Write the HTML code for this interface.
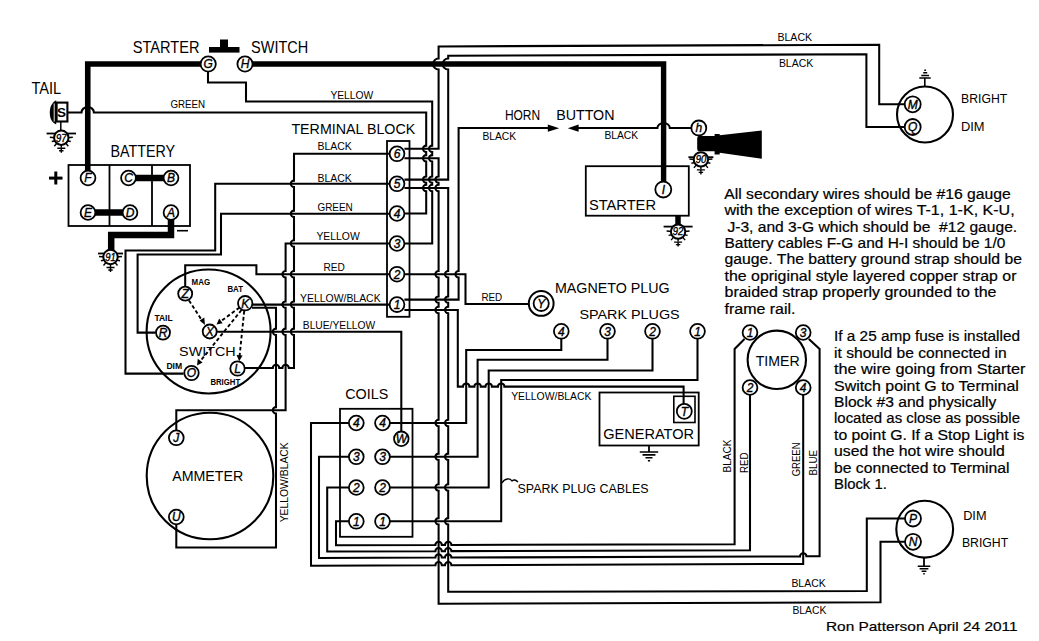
<!DOCTYPE html>
<html><head><meta charset="utf-8"><title>Wiring Diagram</title>
<style>
html,body{margin:0;padding:0;background:#fff;}
body{width:1039px;height:641px;overflow:hidden;}
svg{display:block;}
text{font-family:"Liberation Sans",sans-serif;fill:#000;stroke:none;}
text.t{font-style:italic;text-anchor:middle;stroke:#000;stroke-width:0.35px;}
text.p{stroke:#000;stroke-width:0.2px;white-space:pre;}
</style></head><body>
<svg width="1039" height="641" viewBox="0 0 1039 641">
<rect width="1039" height="641" fill="#fff"/>
<g fill="none" stroke="#000" stroke-linecap="butt" stroke-linejoin="miter">
<path d="M87.75,171 V64 H201" stroke-width="5.6"/>
<path d="M252,64 H663.6 V181.5" stroke-width="5.4"/>
<path d="M136,178 H164" stroke-width="6.5"/>
<path d="M95,212.5 H123" stroke-width="6.5"/>
<path d="M171,219 V235 H111.2 V250" stroke-width="6.5"/>
<path d="M678,215.6 V224.5" stroke-width="5.5"/>
<rect x="209" y="47" width="30.5" height="5.6" fill="#000" stroke="none"/>
<rect x="220" y="39.5" width="8" height="8" fill="#000" stroke="none"/>
<rect x="68.5" y="165" width="121.5" height="61" stroke-width="1.8"/>
<path d="M109.5,165 V226 M152,165 V226" stroke-width="1.8"/>
<path d="M177,230.7 H188" stroke-width="1.6"/>
<rect x="387" y="141" width="22.5" height="175.8" stroke-width="1.8"/>
<rect x="585.8" y="166.2" width="103" height="49.5" stroke-width="1.8"/>
<rect x="599.5" y="392.5" width="99.2" height="53" stroke-width="1.8"/>
<rect x="673.8" y="396.3" width="21.2" height="26.2" stroke-width="1.6"/>
<rect x="340" y="408.8" width="72.5" height="128" stroke-width="1.8"/>
<circle cx="208.6" cy="331.5" r="62" stroke-width="2.1" fill="none"/>
<circle cx="210" cy="476" r="63.3" stroke-width="2.1" fill="none"/>
<circle cx="925" cy="114.5" r="28" stroke-width="2.1" fill="none"/>
<circle cx="924.7" cy="529.2" r="28.4" stroke-width="2.1" fill="none"/>
<circle cx="776.8" cy="359.8" r="29.2" stroke-width="2.1" fill="none"/>
<path d="M208,72 V82.5 H246 V101.5 H432.2 V145.6 A3.2,3.2 0 0,0 432.2,152 V155.1 A3.2,3.2 0 0,0 432.2,161.5 V176.4 A3.2,3.2 0 0,0 432.2,182.8 V184.8 A3.2,3.2 0 0,0 432.2,191.2 V243.5 H404.4" stroke-width="2.05"/>
<path d="M68,112.5 H81.5 A6.2,5.5 0 0,1 93.9,112.5 H426.2 V145.6 A3.2,3.2 0 0,0 426.2,152 V155.1 A3.2,3.2 0 0,0 426.2,161.5 V176.4 A3.2,3.2 0 0,0 426.2,182.8 V184.8 A3.2,3.2 0 0,0 426.2,191.2 V213.5 H404.4" stroke-width="2.05"/>
<path d="M404.4,148.8 H438.6 V69.5 A5.5,5.5 0 0,1 438.6,58.5 V46.4 L879.2,44.7 V104.3 H904.8" stroke-width="2.05"/>
<path d="M404.4,179.6 H448.2 V69.5 A5.5,5.5 0 0,1 448.2,58.5 V55.7 L866.4,54.3 V127 H904.8" stroke-width="2.05"/>
<path d="M404.4,158.3 H438.6 V176.4 A3.2,3.2 0 0,0 438.6,182.8 V184.8 A3.2,3.2 0 0,0 438.6,191.2 V271 A3.2,3.2 0 0,0 438.6,277.4 V296.4 A3.2,3.2 0 0,0 438.6,302.8 V306.8 A3.2,3.2 0 0,0 438.6,313.2 V419.8 A3.2,3.2 0 0,0 438.6,426.2 V453.6 A3.2,3.2 0 0,0 438.6,460 V484.3 A3.2,3.2 0 0,0 438.6,490.7 V518.1 A3.2,3.2 0 0,0 438.6,524.5 V603.8 L880.5,602.3 V541.8 H905" stroke-width="2.05"/>
<path d="M404.4,188 H448.2 V271 A3.2,3.2 0 0,0 448.2,277.4 V296.4 A3.2,3.2 0 0,0 448.2,302.8 V306.8 A3.2,3.2 0 0,0 448.2,313.2 V419.8 A3.2,3.2 0 0,0 448.2,426.2 V453.6 A3.2,3.2 0 0,0 448.2,460 V484.3 A3.2,3.2 0 0,0 448.2,490.7 V518.1 A3.2,3.2 0 0,0 448.2,524.5 V591.8 L866.8,591 V518.5 H905" stroke-width="2.05"/>
<path d="M404.4,299.6 H458.6 V277.4 A3.2,3.2 0 0,1 458.6,271 V128 H552" stroke-width="2.05"/>
<path d="M559.2,128.2 L547.8,124.6 L547.8,131.8 Z" fill="#000" stroke="none"/>
<path d="M567.8,128.2 L578.6,124.6 L578.6,131.8 Z" fill="#000" stroke="none"/>
<path d="M576,128 H657.4 A6.2,5 0 0,1 669.8,128 H691.4" stroke-width="2.05"/>
<path d="M404.4,310 H457.8 V386.6 H463 A3.2,3.2 0 0,1 469.4,386.6 H474.4 A3.2,3.2 0 0,1 480.8,386.6 H485.5 A3.2,3.2 0 0,1 491.9,386.6 H498 A3.2,3.2 0 0,1 504.4,386.6 H683.6 V404" stroke-width="2.05"/>
<path d="M404.4,274.2 H465.5 V304 H528" stroke-width="2.05"/>
<path d="M389.6,153.8 H294 V180.6 A3.2,3.2 0 0,0 294,187 V210.6 A3.2,3.2 0 0,0 294,217 V240.3 A3.2,3.2 0 0,0 294,246.7 V271 A3.2,3.2 0 0,0 294,277.4 V301.4 A3.2,3.2 0 0,0 294,307.8 V328.6 A3.2,3.2 0 0,0 294,335 V368 H288.8 A3.2,3.2 0 0,0 282.4,368 H279.2 A3.2,3.2 0 0,0 272.8,368 H244.8" stroke-width="2.05"/>
<path d="M389.6,183.8 H215.2 V250.5 H125.5 V373.6 H183.6" stroke-width="2.05"/>
<path d="M389.6,213.8 H221 V254.5 H137.6 V332.6 H155.6" stroke-width="2.05"/>
<path d="M389.6,243.5 H285.6 V271 A3.2,3.2 0 0,0 285.6,277.4 V301.4 A3.2,3.2 0 0,0 285.6,307.8 V328.6 A3.2,3.2 0 0,0 285.6,335 V410.3 H176.3 V430.5" stroke-width="2.05"/>
<path d="M389.6,274.2 H256.4 V265.2 H185.2 V286.4" stroke-width="2.05"/>
<path d="M252.4,304.6 H389.6" stroke-width="2.05"/>
<path d="M252,307.8 H276 V328.6 A3.2,3.2 0 0,0 276,335 V407.1 A3.2,3.2 0 0,0 276,413.5 V547.4 H176.3 V524.4" stroke-width="2.05"/>
<path d="M216.9,331.8 H401.3 V431.4" stroke-width="2.05"/>
<path d="M189,300.5 L202,320.5" stroke-width="1.9" stroke-dasharray="3.6,2.4"/>
<path d="M205,325 L199.6,320.6 L204.3,317.6 Z" fill="#000" stroke="none"/>
<path d="M239.5,307.5 L220.5,321.5" stroke-width="1.9" stroke-dasharray="3.6,2.4"/>
<path d="M216.5,324.5 L219.2,318.6 L222.6,323.2 Z" fill="#000" stroke="none"/>
<path d="M241.5,310 L200,361.5" stroke-width="1.9" stroke-dasharray="3.6,2.4"/>
<path d="M197,365.5 L197.8,358.8 L202.6,362.6 Z" fill="#000" stroke="none"/>
<path d="M244.2,311 L239.6,356" stroke-width="1.9" stroke-dasharray="3.6,2.4"/>
<path d="M239.2,361.2 L236.6,355 L242.6,355.6 Z" fill="#000" stroke="none"/>
<path d="M348.9,521.3 H336 V545.3 L435.4,545.03 A3.2,3.2 0 0,1 441.8,545.01 L445,545 A3.2,3.2 0 0,1 451.4,544.98 L734.6,544.2 V349 L744.5,339" stroke-width="2.05"/>
<path d="M348.9,487.5 H327.2 V551.5 L435.4,551.17 A3.2,3.2 0 0,1 441.8,551.15 L445,551.14 A3.2,3.2 0 0,1 451.4,551.12 L750,550.2 V394.8" stroke-width="2.05"/>
<path d="M348.9,456.8 H319 V558 L435.4,557.6 A3.2,3.2 0 0,1 441.8,557.58 L445,557.57 A3.2,3.2 0 0,1 451.4,557.55 L800,556.37 A3.2,3.2 0 0,1 806.4,556.34 L819.6,556.3 V349 L808.8,339" stroke-width="2.05"/>
<path d="M348.9,423 H311 V565.7 L435.4,565.25 A3.2,3.2 0 0,1 441.8,565.22 L445,565.21 A3.2,3.2 0 0,1 451.4,565.19 L803.2,563.9 V394.8" stroke-width="2.05"/>
<path d="M389.9,423 H466.2 V350 H561.3 V338.5" stroke-width="2.05"/>
<path d="M389.9,456.8 H477.6 V359.8 H607.5 V338.5" stroke-width="2.05"/>
<path d="M389.9,487.5 H488.7 V370.4 H652.5 V338.5" stroke-width="2.05"/>
<path d="M389.9,521.3 H501.2 V379.9 H697.5 V338.5" stroke-width="2.05"/>
<path d="M502,483 C505,478 510,478 512,481 C514,479 516,480 518,482" stroke-width="1.3"/>
<path d="M649,445.4 V452" stroke-width="1.8"/>
<path d="M639.8,452 H658.2 M642.56,454.9 H655.44 M645.5,457.8 H652.5 M647.9,460.7 H650.1" stroke-width="1.6"/>
<path d="M924,557.4 V566.2" stroke-width="1.8"/>
<path d="M917.75,566.2 H930.25 M919.62,568.7 H928.38 M921.62,571.2 H926.38 M923.25,573.7 H924.75" stroke-width="1.6"/>
<path d="M924.8,86.5 V78" stroke-width="1.6"/>
<path d="M919.3,78.1 H930.7 M921.3,75.4 H929 M923.2,72.8 H927.2 M924.3,70.3 H926" stroke-width="1.5"/>
<circle cx="208.2" cy="64" r="7.6" stroke-width="1.8" fill="#fff"/>
<text class="t" x="208.2" y="68.4" font-size="12">G</text>
<circle cx="245" cy="64" r="7.6" stroke-width="1.8" fill="#fff"/>
<text class="t" x="245" y="68.4" font-size="12">H</text>
<circle cx="88" cy="178" r="7.4" stroke-width="1.8" fill="#fff"/>
<text class="t" x="88" y="182.4" font-size="12">F</text>
<circle cx="128.5" cy="178" r="7.4" stroke-width="1.8" fill="#fff"/>
<text class="t" x="128.5" y="182.4" font-size="12">C</text>
<circle cx="171" cy="178" r="7.4" stroke-width="1.8" fill="#fff"/>
<text class="t" x="171" y="182.4" font-size="12">B</text>
<circle cx="88" cy="212.5" r="7.4" stroke-width="1.8" fill="#fff"/>
<text class="t" x="88" y="216.9" font-size="12">E</text>
<circle cx="130" cy="212.5" r="7.4" stroke-width="1.8" fill="#fff"/>
<text class="t" x="130" y="216.9" font-size="12">D</text>
<circle cx="171" cy="212.5" r="7.4" stroke-width="1.8" fill="#fff"/>
<text class="t" x="171" y="216.9" font-size="12">A</text>
<circle cx="397" cy="153.8" r="7.4" stroke-width="1.8" fill="#fff"/>
<text class="t" x="397" y="158.2" font-size="12">6</text>
<circle cx="397" cy="183.8" r="7.4" stroke-width="1.8" fill="#fff"/>
<text class="t" x="397" y="188.2" font-size="12">5</text>
<circle cx="397" cy="213.5" r="7.4" stroke-width="1.8" fill="#fff"/>
<text class="t" x="397" y="217.9" font-size="12">4</text>
<circle cx="397" cy="243.5" r="7.4" stroke-width="1.8" fill="#fff"/>
<text class="t" x="397" y="247.9" font-size="12">3</text>
<circle cx="397" cy="274.2" r="7.4" stroke-width="1.8" fill="#fff"/>
<text class="t" x="397" y="278.6" font-size="12">2</text>
<circle cx="397" cy="304.6" r="7.4" stroke-width="1.8" fill="#fff"/>
<text class="t" x="397" y="309" font-size="12">1</text>
<circle cx="912.7" cy="104.3" r="8" stroke-width="1.8" fill="#fff"/>
<text class="t" x="912.7" y="108.7" font-size="12">M</text>
<circle cx="912.7" cy="127" r="8" stroke-width="1.8" fill="#fff"/>
<text class="t" x="912.7" y="131.4" font-size="12">Q</text>
<circle cx="698.8" cy="128" r="7.5" stroke-width="1.8" fill="#fff"/>
<text class="t" x="698.8" y="132.4" font-size="12">h</text>
<circle cx="663.3" cy="189.5" r="8" stroke-width="1.8" fill="#fff"/>
<text class="t" x="663.3" y="193.9" font-size="12">I</text>
<circle cx="185.2" cy="293.7" r="7" stroke-width="1.8" fill="#fff"/>
<text class="t" x="185.2" y="298.1" font-size="12">Z</text>
<circle cx="163" cy="332.6" r="7" stroke-width="1.8" fill="#fff"/>
<text class="t" x="163" y="337" font-size="12">R</text>
<circle cx="209.7" cy="331.5" r="7" stroke-width="1.8" fill="#fff"/>
<text class="t" x="209.7" y="335.9" font-size="12">X</text>
<circle cx="245.2" cy="303.2" r="7.2" stroke-width="1.8" fill="#fff"/>
<text class="t" x="245.2" y="307.6" font-size="12">K</text>
<circle cx="191.5" cy="373" r="7.2" stroke-width="1.8" fill="#fff"/>
<text class="t" x="191.5" y="377.4" font-size="12">O</text>
<circle cx="237.5" cy="368.5" r="7.2" stroke-width="1.8" fill="#fff"/>
<text class="t" x="237.5" y="372.9" font-size="12">L</text>
<circle cx="541.2" cy="303.4" r="12.4" stroke-width="2" fill="#fff"/>
<circle cx="541.2" cy="303.4" r="7.6" stroke-width="1.8" fill="#fff"/>
<text class="t" x="541.2" y="307.8" font-size="12">Y</text>
<circle cx="561.3" cy="331.3" r="7.4" stroke-width="1.8" fill="#fff"/>
<text class="t" x="561.3" y="335.7" font-size="12">4</text>
<circle cx="607.5" cy="331.3" r="7.4" stroke-width="1.8" fill="#fff"/>
<text class="t" x="607.5" y="335.7" font-size="12">3</text>
<circle cx="652.5" cy="331.3" r="7.4" stroke-width="1.8" fill="#fff"/>
<text class="t" x="652.5" y="335.7" font-size="12">2</text>
<circle cx="697.5" cy="331.3" r="7.4" stroke-width="1.8" fill="#fff"/>
<text class="t" x="697.5" y="335.7" font-size="12">1</text>
<circle cx="684.3" cy="411.3" r="7.5" stroke-width="1.8" fill="#fff"/>
<text class="t" x="684.3" y="415.7" font-size="12">T</text>
<circle cx="750" cy="332.5" r="7.4" stroke-width="1.8" fill="#fff"/>
<text class="t" x="750" y="336.9" font-size="12">1</text>
<circle cx="803.2" cy="332.5" r="7.4" stroke-width="1.8" fill="#fff"/>
<text class="t" x="803.2" y="336.9" font-size="12">3</text>
<circle cx="750" cy="387.5" r="7.4" stroke-width="1.8" fill="#fff"/>
<text class="t" x="750" y="391.9" font-size="12">2</text>
<circle cx="803.2" cy="387.5" r="7.4" stroke-width="1.8" fill="#fff"/>
<text class="t" x="803.2" y="391.9" font-size="12">4</text>
<circle cx="356.3" cy="423" r="7.4" stroke-width="1.8" fill="#fff"/>
<text class="t" x="356.3" y="427.4" font-size="12">4</text>
<circle cx="382.5" cy="423" r="7.4" stroke-width="1.8" fill="#fff"/>
<text class="t" x="382.5" y="427.4" font-size="12">4</text>
<circle cx="356.3" cy="456.8" r="7.4" stroke-width="1.8" fill="#fff"/>
<text class="t" x="356.3" y="461.2" font-size="12">3</text>
<circle cx="382.5" cy="456.8" r="7.4" stroke-width="1.8" fill="#fff"/>
<text class="t" x="382.5" y="461.2" font-size="12">3</text>
<circle cx="356.3" cy="487.5" r="7.4" stroke-width="1.8" fill="#fff"/>
<text class="t" x="356.3" y="491.9" font-size="12">2</text>
<circle cx="382.5" cy="487.5" r="7.4" stroke-width="1.8" fill="#fff"/>
<text class="t" x="382.5" y="491.9" font-size="12">2</text>
<circle cx="356.3" cy="521.3" r="7.4" stroke-width="1.8" fill="#fff"/>
<text class="t" x="356.3" y="525.7" font-size="12">1</text>
<circle cx="382.5" cy="521.3" r="7.4" stroke-width="1.8" fill="#fff"/>
<text class="t" x="382.5" y="525.7" font-size="12">1</text>
<circle cx="401.3" cy="438.8" r="7.3" stroke-width="1.8" fill="#fff"/>
<text class="t" x="401.3" y="443.2" font-size="12">W</text>
<circle cx="176.3" cy="437.8" r="7.4" stroke-width="1.8" fill="#fff"/>
<text class="t" x="176.3" y="442.2" font-size="12">J</text>
<circle cx="176.3" cy="517" r="7.4" stroke-width="1.8" fill="#fff"/>
<text class="t" x="176.3" y="521.4" font-size="12">U</text>
<circle cx="913" cy="518.5" r="8" stroke-width="1.8" fill="#fff"/>
<text class="t" x="913" y="522.9" font-size="12">P</text>
<circle cx="913" cy="541.8" r="8" stroke-width="1.8" fill="#fff"/>
<text class="t" x="913" y="546.2" font-size="12">N</text>
<path d="M56.2,100.2 C51.5,103 49.8,107 49.8,112.4 C49.8,118 51.5,122 56.2,124.5 Z" fill="#000" stroke="none"/>
<path d="M54.2,103.5 V121.5" stroke-width="0.9" stroke="#fff"/>
<rect x="56.6" y="102.6" width="10.8" height="18.9" stroke-width="2.1" fill="#fff"/>
<text x="61.6" y="116.6" font-size="13.5" font-weight="bold" text-anchor="middle" style="font-family:Liberation Sans,sans-serif">S</text>
<path d="M60.8,121.5 V130.5" stroke-width="1.5"/>
<path d="M46.6,133.5 H76" stroke-width="1.8"/>
<path d="M49.8,137.2 L55.3,137.7 M67.3,137.7 L72.8,137.2" stroke-width="1.5"/>
<path d="M51.8,141.5 L55.8,140.7 M66.8,140.7 L70.8,141.5" stroke-width="1.4"/>
<path d="M56.8,143.2 l-2.5,3 M65.8,143.2 l2.5,3 M61.3,143.7 V147.7" stroke-width="1.4"/>
<circle cx="61.3" cy="137.7" r="7.2" stroke-width="2" fill="#fff"/>
<text class="t" x="61.3" y="141.5" font-size="10.5" textLength="10.5" lengthAdjust="spacingAndGlyphs">97</text>
<path d="M57.3,148.2 H65.3 M59.1,150.7 H63.5 M61.3,147.7 V152.7" stroke-width="1.4"/>
<path d="M98,253.5 H123" stroke-width="1.8"/>
<path d="M99,256.5 L104.5,257 M116.5,257 L122,256.5" stroke-width="1.5"/>
<path d="M101,260.8 L105,260 M116,260 L120,260.8" stroke-width="1.4"/>
<path d="M106,262.5 l-2.5,3 M115,262.5 l2.5,3 M110.5,263 V267" stroke-width="1.4"/>
<circle cx="110.5" cy="257" r="7.2" stroke-width="2" fill="#fff"/>
<text class="t" x="110.5" y="260.8" font-size="10.5" textLength="10.5" lengthAdjust="spacingAndGlyphs">91</text>
<path d="M106.5,267.5 H114.5 M108.3,270 H112.7 M110.5,267 V272" stroke-width="1.4"/>
<path d="M688.4,157.2 H713.4" stroke-width="1.8"/>
<path d="M689.4,158.9 L694.9,159.4 M706.9,159.4 L712.4,158.9" stroke-width="1.5"/>
<path d="M691.4,163.2 L695.4,162.4 M706.4,162.4 L710.4,163.2" stroke-width="1.4"/>
<path d="M696.4,164.9 l-2.5,3 M705.4,164.9 l2.5,3 M700.9,165.4 V169.4" stroke-width="1.4"/>
<circle cx="700.9" cy="159.4" r="7.2" stroke-width="2" fill="#fff"/>
<text class="t" x="700.9" y="163.2" font-size="10.5" textLength="10.5" lengthAdjust="spacingAndGlyphs">90</text>
<path d="M696.9,169.9 H704.9 M698.7,172.4 H703.1 M700.9,169.4 V174.4" stroke-width="1.4"/>
<path d="M663.6,226.6 H692.6" stroke-width="1.8"/>
<path d="M666.6,231.1 L672.1,231.6 M684.1,231.6 L689.6,231.1" stroke-width="1.5"/>
<path d="M668.6,235.4 L672.6,234.6 M683.6,234.6 L687.6,235.4" stroke-width="1.4"/>
<path d="M673.6,237.1 l-2.5,3 M682.6,237.1 l2.5,3 M678.1,237.6 V241.6" stroke-width="1.4"/>
<circle cx="678.1" cy="231.6" r="7.2" stroke-width="2" fill="#fff"/>
<text class="t" x="678.1" y="235.4" font-size="10.5" textLength="10.5" lengthAdjust="spacingAndGlyphs">92</text>
<path d="M674.1,242.1 H682.1 M675.9,244.6 H680.3 M678.1,241.6 V246.6" stroke-width="1.4"/>
<path d="M699,136 L714.6,136 L714.6,133.9 L719.7,133.9 L719.7,135.2 L761.8,130.4 L761.8,158.7 L719.7,152.7 L719.7,154.5 L714.6,154.5 L714.6,151.2 L699,151.2 Q697.2,151.2 697.2,148 L697.2,139 Q697.2,136 699,136 Z" fill="#000" stroke="none"/>
</g>
<text class="l" x="132.7" y="53" font-size="16.4" textLength="66.8" lengthAdjust="spacingAndGlyphs">STARTER</text>
<text class="l" x="251.1" y="53" font-size="16.4" textLength="57.1" lengthAdjust="spacingAndGlyphs">SWITCH</text>
<text class="l" x="31.4" y="94" font-size="15.6" textLength="29.8" lengthAdjust="spacingAndGlyphs">TAIL</text>
<text class="l" x="110.4" y="157" font-size="15.6" textLength="64.8" lengthAdjust="spacingAndGlyphs">BATTERY</text>
<rect x="49" y="176.6" width="13.5" height="3" fill="#000"/>
<rect x="54.3" y="171.5" width="3" height="13" fill="#000"/>
<text class="l" x="170.4" y="108.3" font-size="10.2" textLength="34.8" lengthAdjust="spacingAndGlyphs">GREEN</text>
<text class="l" x="330.4" y="99" font-size="10.2" textLength="42.8" lengthAdjust="spacingAndGlyphs">YELLOW</text>
<text class="l" x="291.4" y="134" font-size="15.2" textLength="123.8" lengthAdjust="spacingAndGlyphs">TERMINAL BLOCK</text>
<text class="l" x="317.4" y="149.6" font-size="10.2" textLength="34.5" lengthAdjust="spacingAndGlyphs">BLACK</text>
<text class="l" x="317.4" y="181.5" font-size="10.2" textLength="34.5" lengthAdjust="spacingAndGlyphs">BLACK</text>
<text class="l" x="317.4" y="211.4" font-size="10.2" textLength="35.4" lengthAdjust="spacingAndGlyphs">GREEN</text>
<text class="l" x="316.4" y="239.5" font-size="10.2" textLength="43.3" lengthAdjust="spacingAndGlyphs">YELLOW</text>
<text class="l" x="323.4" y="271" font-size="10.2" textLength="21.4" lengthAdjust="spacingAndGlyphs">RED</text>
<text class="l" x="300.1" y="301.5" font-size="10.2" textLength="80.5" lengthAdjust="spacingAndGlyphs">YELLOW/BLACK</text>
<text class="l" x="302.8" y="329" font-size="10.2" textLength="72.4" lengthAdjust="spacingAndGlyphs">BLUE/YELLOW</text>
<text class="l" x="504.9" y="119.8" font-size="14.5" textLength="35.3" lengthAdjust="spacingAndGlyphs">HORN</text>
<text class="l" x="556.2" y="119.8" font-size="14.5" textLength="58.3" lengthAdjust="spacingAndGlyphs">BUTTON</text>
<text class="l" x="482.4" y="140" font-size="10.2" textLength="33.8" lengthAdjust="spacingAndGlyphs">BLACK</text>
<text class="l" x="604.4" y="139" font-size="10.2" textLength="33.8" lengthAdjust="spacingAndGlyphs">BLACK</text>
<text class="l" x="777.4" y="41" font-size="10.2" textLength="34.8" lengthAdjust="spacingAndGlyphs">BLACK</text>
<text class="l" x="778.9" y="67" font-size="10.2" textLength="34.3" lengthAdjust="spacingAndGlyphs">BLACK</text>
<text class="l" x="961" y="103.2" font-size="12" textLength="46.2" lengthAdjust="spacingAndGlyphs">BRIGHT</text>
<text class="l" x="961" y="131.3" font-size="12" textLength="23.6" lengthAdjust="spacingAndGlyphs">DIM</text>
<text class="l" x="588.9" y="210" font-size="15" textLength="67.1" lengthAdjust="spacingAndGlyphs">STARTER</text>
<text class="l" x="554.9" y="292.5" font-size="14" textLength="114.8" lengthAdjust="spacingAndGlyphs">MAGNETO PLUG</text>
<text class="l" x="481.4" y="301.3" font-size="10.2" textLength="20.8" lengthAdjust="spacingAndGlyphs">RED</text>
<text class="l" x="579.4" y="319.3" font-size="13.6" textLength="100.3" lengthAdjust="spacingAndGlyphs">SPARK PLUGS</text>
<text class="l" x="511.2" y="399.5" font-size="10.2" textLength="80.3" lengthAdjust="spacingAndGlyphs">YELLOW/BLACK</text>
<text class="l" x="603.2" y="438.8" font-size="14.6" textLength="90.8" lengthAdjust="spacingAndGlyphs">GENERATOR</text>
<text class="l" x="755.7" y="365.5" font-size="14.6" textLength="44" lengthAdjust="spacingAndGlyphs">TIMER</text>
<text class="l" x="345.2" y="398.8" font-size="13.8" textLength="43" lengthAdjust="spacingAndGlyphs">COILS</text>
<text class="l" x="172.2" y="480.8" font-size="14.4" textLength="71" lengthAdjust="spacingAndGlyphs">AMMETER</text>
<text class="l" x="517.5" y="493" font-size="13.2" textLength="131" lengthAdjust="spacingAndGlyphs">SPARK PLUG CABLES</text>
<text class="l" x="191.6" y="285.3" font-size="8.2" textLength="18.5" lengthAdjust="spacingAndGlyphs" font-weight="bold">MAG</text>
<text class="l" x="227.4" y="291.9" font-size="8.2" textLength="15.6" lengthAdjust="spacingAndGlyphs" font-weight="bold">BAT</text>
<text class="l" x="154.4" y="321.2" font-size="8.6" textLength="18.3" lengthAdjust="spacingAndGlyphs" font-weight="bold">TAIL</text>
<text class="l" x="166.4" y="368.8" font-size="8.6" textLength="15.8" lengthAdjust="spacingAndGlyphs" font-weight="bold">DIM</text>
<text class="l" x="210.4" y="385" font-size="8.6" textLength="29.8" lengthAdjust="spacingAndGlyphs" font-weight="bold">BRIGHT</text>
<text class="l" x="179.1" y="356" font-size="13.2" textLength="56.6" lengthAdjust="spacingAndGlyphs">SWITCH</text>
<text class="l" transform="translate(288.17,522.3) rotate(-90)" x="0" y="0" font-size="10.2" textLength="80" lengthAdjust="spacingAndGlyphs">YELLOW/BLACK</text>
<text class="l" transform="translate(731.17,472.5) rotate(-90)" x="0" y="0" font-size="10.2" textLength="33" lengthAdjust="spacingAndGlyphs">BLACK</text>
<text class="l" transform="translate(748.17,473) rotate(-90)" x="0" y="0" font-size="10.2" textLength="20.5" lengthAdjust="spacingAndGlyphs">RED</text>
<text class="l" transform="translate(799.97,476.3) rotate(-90)" x="0" y="0" font-size="10.2" textLength="33.8" lengthAdjust="spacingAndGlyphs">GREEN</text>
<text class="l" transform="translate(816.97,475.5) rotate(-90)" x="0" y="0" font-size="10.2" textLength="25.5" lengthAdjust="spacingAndGlyphs">BLUE</text>
<text class="l" x="791.4" y="586.8" font-size="10.2" textLength="34.3" lengthAdjust="spacingAndGlyphs">BLACK</text>
<text class="l" x="792.4" y="614.3" font-size="10.2" textLength="34" lengthAdjust="spacingAndGlyphs">BLACK</text>
<text class="l" x="963.2" y="520.3" font-size="12" textLength="23.3" lengthAdjust="spacingAndGlyphs">DIM</text>
<text class="l" x="961.9" y="546.5" font-size="12" textLength="46.3" lengthAdjust="spacingAndGlyphs">BRIGHT</text>
<text class="p" x="724.3" y="199" font-size="13.8" textLength="286.5" lengthAdjust="spacingAndGlyphs">All secondary wires should be #16 gauge</text>
<text class="p" x="724.5" y="215.37" font-size="13.8" textLength="290.1" lengthAdjust="spacingAndGlyphs">with the exception of wires T-1, 1-K, K-U,</text>
<text class="p" x="727.4" y="231.74" font-size="13.8" textLength="289.8" lengthAdjust="spacingAndGlyphs">J-3, and 3-G which should be  #12 gauge.</text>
<text class="p" x="724.5" y="248.11" font-size="13.8" textLength="280.8" lengthAdjust="spacingAndGlyphs">Battery cables F-G and H-I should be 1/0</text>
<text class="p" x="724.5" y="264.48" font-size="13.8" textLength="297.5" lengthAdjust="spacingAndGlyphs">gauge. The battery ground strap should be</text>
<text class="p" x="724.5" y="280.85" font-size="13.8" textLength="292" lengthAdjust="spacingAndGlyphs">the opriginal style layered copper strap or</text>
<text class="p" x="724.5" y="297.22" font-size="13.8" textLength="272" lengthAdjust="spacingAndGlyphs">braided strap properly grounded to the</text>
<text class="p" x="724.5" y="313.59" font-size="13.8" textLength="71" lengthAdjust="spacingAndGlyphs">frame rail.</text>
<text class="p" x="834" y="341.2" font-size="13.8" textLength="186" lengthAdjust="spacingAndGlyphs">If a 25 amp fuse is installed</text>
<text class="p" x="834" y="357.65" font-size="13.8" textLength="172.7" lengthAdjust="spacingAndGlyphs">it should be connected in</text>
<text class="p" x="834" y="374.1" font-size="13.8" textLength="191.5" lengthAdjust="spacingAndGlyphs">the wire going from Starter</text>
<text class="p" x="834" y="390.55" font-size="13.8" textLength="184.8" lengthAdjust="spacingAndGlyphs">Switch point G to Terminal</text>
<text class="p" x="834" y="407" font-size="13.8" textLength="162.3" lengthAdjust="spacingAndGlyphs">Block #3 and physically</text>
<text class="p" x="834" y="423.45" font-size="13.8" textLength="186" lengthAdjust="spacingAndGlyphs">located as close as possible</text>
<text class="p" x="834" y="439.9" font-size="13.8" textLength="190.4" lengthAdjust="spacingAndGlyphs">to point G. If a Stop Light is</text>
<text class="p" x="834" y="456.35" font-size="13.8" textLength="170.7" lengthAdjust="spacingAndGlyphs">used the hot wire should</text>
<text class="p" x="834" y="472.8" font-size="13.8" textLength="175.5" lengthAdjust="spacingAndGlyphs">be connected to Terminal</text>
<text class="p" x="834" y="489.25" font-size="13.8" textLength="52.8" lengthAdjust="spacingAndGlyphs">Block 1.</text>
<text class="p" x="826" y="631.2" font-size="13.4" textLength="191.5" lengthAdjust="spacingAndGlyphs">Ron Patterson April 24 2011</text>
</svg></body></html>
